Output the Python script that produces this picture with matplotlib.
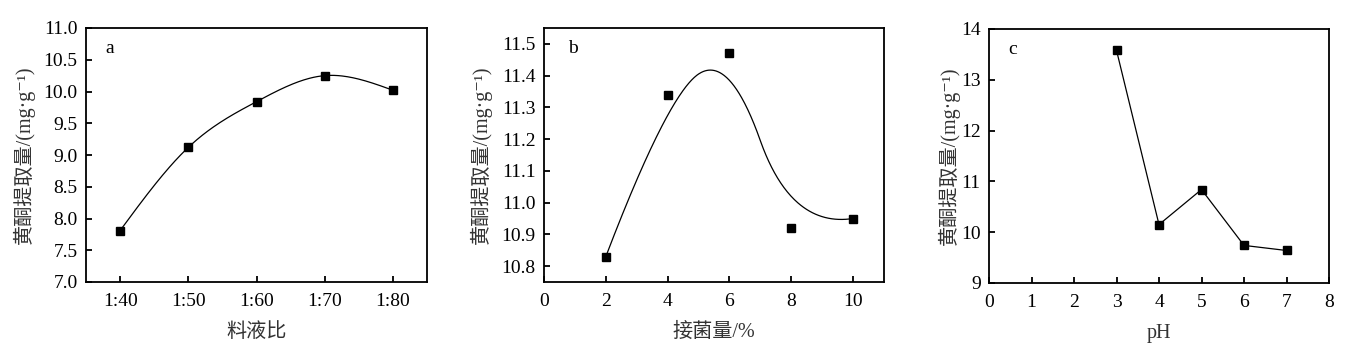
import numpy as np
import matplotlib
matplotlib.use('Agg')
import matplotlib.pyplot as plt

plt.rcParams['font.family'] = ['Liberation Serif', 'Noto Sans CJK SC', 'DejaVu Serif']

# panel a: solid-liquid ratio
ratio_labels = ['1:40', '1:50', '1:60', '1:70', '1:80']
ratio_yield = [7.81, 9.12, 9.84, 10.25, 10.02]

# panel b: inoculum amount (%)
inoc_x = [2, 4, 6, 8, 10]
inoc_yield = [10.83, 11.34, 11.47, 10.92, 10.95]

# panel c: pH
ph_x = [3, 4, 5, 6, 7]
ph_yield = [13.58, 10.15, 10.84, 9.74, 9.64]

ylab = '黄酮提取量/(mg·g⁻¹)'


def natural_spline(x, y, n=200):
    x = np.asarray(x, float)
    y = np.asarray(y, float)
    k = len(x)
    h = np.diff(x)
    A = np.zeros((k, k))
    r = np.zeros(k)
    A[0, 0] = A[-1, -1] = 1
    for i in range(1, k - 1):
        A[i, i - 1] = h[i - 1]
        A[i, i] = 2 * (h[i - 1] + h[i])
        A[i, i + 1] = h[i]
        r[i] = 3 * ((y[i + 1] - y[i]) / h[i] - (y[i] - y[i - 1]) / h[i - 1])
    c = np.linalg.solve(A, r)
    xs = np.linspace(x[0], x[-1], n)
    ys = np.empty_like(xs)
    for j, xv in enumerate(xs):
        i = min(np.searchsorted(x, xv, side='right') - 1, k - 2)
        dx = xv - x[i]
        b = (y[i + 1] - y[i]) / h[i] - h[i] * (2 * c[i] + c[i + 1]) / 3
        d = (c[i + 1] - c[i]) / (3 * h[i])
        ys[j] = y[i] + b * dx + c[i] * dx ** 2 + d * dx ** 3
    return xs, ys


def bspline(px, py, deg=2, n=300):
    # clamped B-spline using the data points as control points
    P = np.column_stack([px, py]).astype(float)
    m = len(P)
    inner = np.linspace(0, 1, m - deg + 1)[1:-1]
    t = np.concatenate([np.zeros(deg + 1), inner, np.ones(deg + 1)])
    us = np.linspace(0, 1, n)
    out = []
    for u in us:
        N = np.zeros(len(t) - 1)
        for i in range(len(t) - 1):
            if t[i] <= u < t[i + 1]:
                N[i] = 1.0
        if u >= 1.0:
            N[:] = 0
            N[m - 1] = 1.0
        for p in range(1, deg + 1):
            Nn = np.zeros(len(t) - 1 - p)
            for i in range(len(Nn)):
                a = 0.0
                if t[i + p] != t[i]:
                    a += (u - t[i]) / (t[i + p] - t[i]) * N[i]
                if t[i + p + 1] != t[i + 1]:
                    a += (t[i + p + 1] - u) / (t[i + p + 1] - t[i + 1]) * N[i + 1]
                Nn[i] = a
            N = Nn
        out.append(N[:m] @ P)
    out = np.array(out)
    return out[:, 0], out[:, 1]


fig = plt.figure(figsize=(13.48, 3.54), dpi=100)
h = 254 / 354
ax1 = fig.add_axes([86 / 1348, 1 - 282 / 354, 341 / 1348, h])
ax2 = fig.add_axes([544 / 1348, 1 - 282 / 354, 340 / 1348, h])
ax3 = fig.add_axes([989 / 1348, 1 - 283 / 354, 340 / 1348, h])

mk = dict(marker='s', color='black', ms=5.5, ls='none', zorder=3)

# a
xa = np.arange(len(ratio_labels))
sx, sy = natural_spline(xa, ratio_yield)
ax1.plot(sx, sy, color='black', lw=0.9)
ax1.plot(xa, ratio_yield, **mk)
ax1.set_xlim(-0.5, 4.5)
ax1.set_ylim(7.0, 11.0)
ax1.set_xticks(xa)
ax1.set_xticklabels(ratio_labels)
ax1.set_yticks(np.arange(7.0, 11.01, 0.5))
ax1.set_yticklabels([f'{v:.1f}' for v in np.arange(7.0, 11.01, 0.5)])
ax1.set_xlabel('料液比')

# b
bx, by = bspline(inoc_x, inoc_yield)
ax2.plot(bx, by, color='black', lw=0.9)
ax2.plot(inoc_x, inoc_yield, **mk)
ax2.set_xlim(0, 11)
ax2.set_ylim(10.75, 11.55)
ax2.set_xticks([0, 2, 4, 6, 8, 10])
ax2.set_yticks(np.arange(10.8, 11.51, 0.1))
ax2.set_yticklabels([f'{v:.1f}' for v in np.arange(10.8, 11.51, 0.1)])
ax2.set_xlabel('接菌量/%')

# c
ax3.plot(ph_x, ph_yield, color='black', lw=0.9)
ax3.plot(ph_x, ph_yield, **mk)
ax3.set_xlim(0, 8)
ax3.set_ylim(9, 14)
ax3.set_xticks(range(0, 9))
ax3.set_yticks(range(9, 15))
ax3.set_xlabel('pH')

for ax, lab, lx in [(ax1, 'a', 0.07), (ax2, 'b', 0.085), (ax3, 'c', 0.07)]:
    ax.text(lx, 0.92, lab, transform=ax.transAxes, fontsize=14, va='center', ha='center')
    ax.set_ylabel(ylab, fontsize=14.5, color='#333333')
    ax.xaxis.label.set_fontsize(14.5)
    ax.xaxis.label.set_color('#333333')
    ax.xaxis.labelpad = 9
    ax.tick_params(direction='in', length=4, width=1.3, labelsize=14)
    ax.tick_params(axis='x', pad=8)
    ax.tick_params(axis='y', pad=6)
    for s in ax.spines.values():
        s.set_linewidth(1.3)

ax1.yaxis.set_label_coords(-0.15, 0.5)
ax2.yaxis.set_label_coords(-0.153, 0.5)
ax3.yaxis.set_label_coords(-0.085, 0.5)

fig.savefig('out.png', dpi=100)
